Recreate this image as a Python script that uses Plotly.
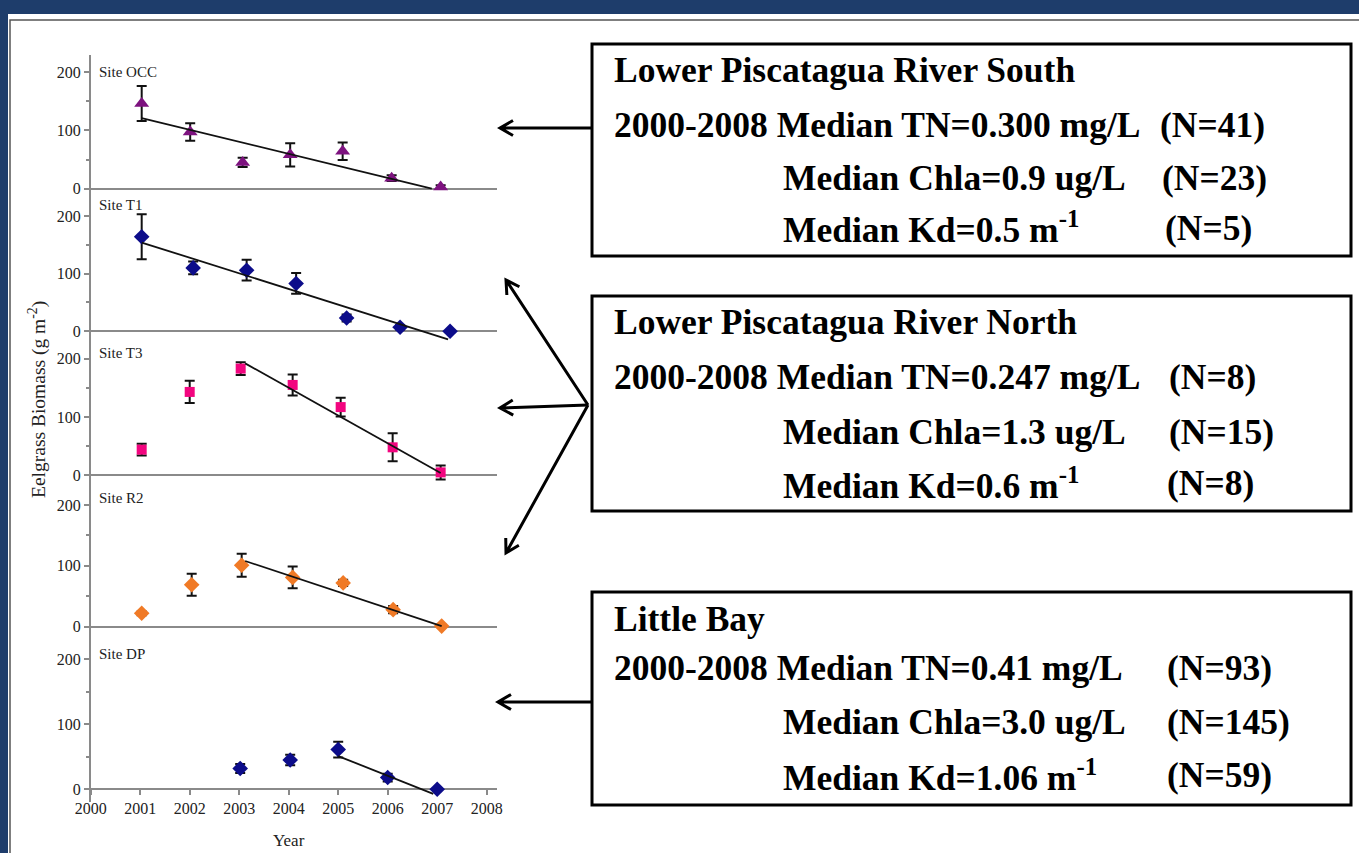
import math
import plotly.graph_objects as go

W, H = 1359, 853
def px(x): return x / W
def py(y): return 1 - y / H

# ---------------- data ----------------
year_ticks = [2000, 2001, 2002, 2003, 2004, 2005, 2006, 2007, 2008]
site_names = ["Site OCC", "Site T1", "Site T3", "Site R2", "Site DP"]

occ_x = [2001.03, 2002.01, 2003.07, 2004.03, 2005.09, 2006.08, 2007.07]
occ_y = [146, 97, 45, 58, 64, 18, 3]
occ_err = [30, 15, 8, 20, 15, 5, 3]
occ_trend_x = [2001.03, 2006.89]
occ_trend_y = [121, 0]

t1_x = [2001.03, 2002.07, 2003.15, 2004.15, 2005.17, 2006.25, 2007.26]
t1_y = [164, 110, 106, 83, 23, 7, 0]
t1_err = [39, 11, 18, 18, 6, 4, 2]
t1_trend_x = [2001.03, 2007.22]
t1_trend_y = [154, -14]

t3_x = [2001.03, 2002.0, 2003.03, 2004.08, 2005.05, 2006.1, 2007.07]
t3_y = [44, 143, 183, 155, 117, 48, 5]
t3_err = [10, 19, 11, 18, 16, 24, 12]
t3_trend_x = [2003.12, 2007.07]
t3_trend_y = [192, 4]

r2_x = [2001.03, 2002.04, 2003.05, 2004.08, 2005.1, 2006.11, 2007.09]
r2_y = [22, 69, 101, 81, 72, 28, 1]
r2_err = [3, 18, 19, 18, 5, 6, 2]
r2_trend_x = [2003.12, 2007.09]
r2_trend_y = [108, 1]

dp_x = [2003.02, 2004.03, 2005.0, 2006.0, 2007.0]
dp_y = [32, 45, 61, 18, 0]
dp_err = [7, 8, 12, 6, 0]
dp_trend_x = [2005.0, 2006.92]
dp_trend_y = [51, -7]

box_titles = ["Lower Piscatagua River South", "Lower Piscatagua River North", "Little Bay"]
tn_text = ["2000-2008 Median TN=0.300 mg/L", "2000-2008 Median TN=0.247 mg/L", "2000-2008 Median TN=0.41 mg/L"]
tn_n = ["(N=41)", "(N=8)", "(N=93)"]
chla_text = ["Median Chla=0.9 ug/L", "Median Chla=1.3 ug/L", "Median Chla=3.0 ug/L"]
chla_n = ["(N=23)", "(N=15)", "(N=145)"]
kd_text = ["Median Kd=0.5 m<sup>-1</sup>", "Median Kd=0.6 m<sup>-1</sup>", "Median Kd=1.06 m<sup>-1</sup>"]
kd_n = ["(N=5)", "(N=8)", "(N=59)"]

# ---------------- styling / layout geometry ----------------
serif = "Liberation Serif, Times New Roman, serif"
navy = "#0c0c8a"
colors = ["#7d127f", navy, "#f2057f", "#f07a26", navy]
symbols = ["triangle-up", "diamond", "square", "diamond", "diamond"]
sizes = [13, 12, 10, 12, 12]

series = [
    (occ_x, occ_y, occ_err, occ_trend_x, occ_trend_y),
    (t1_x, t1_y, t1_err, t1_trend_x, t1_trend_y),
    (t3_x, t3_y, t3_err, t3_trend_x, t3_trend_y),
    (r2_x, r2_y, r2_err, r2_trend_x, r2_trend_y),
    (dp_x, dp_y, dp_err, dp_trend_x, dp_trend_y),
]

# pixel position of value 0 and 200 for each panel
p0 = [188.7, 331.3, 475.3, 626.7, 789.3]
p200 = [72.0, 216.0, 358.7, 505.0, 659.0]
ptop = [55, 189, 332, 476, 628]
site_label_y = [72, 205, 353, 498, 654]
ylo = -20

x_left_px, x_2008_px = 90.7, 486.7
xmin, xmax = 2000, 2008.2
ppy = (x_2008_px - x_left_px) / 8
x_right_px = x_left_px + (xmax - xmin) * ppy

fig = go.Figure()

layout = dict(
    width=W, height=H,
    margin=dict(l=0, r=0, t=0, b=0, autoexpand=False),
    paper_bgcolor="#1e3d6b",
    plot_bgcolor="rgba(0,0,0,0)",
    showlegend=False,
    font=dict(family=serif, color="#222", size=15),
)

axis_gray = "#8a8a8a"
layout["xaxis"] = dict(
    domain=[px(x_left_px), px(x_right_px)], range=[xmin, xmax],
    anchor="free", position=py(p0[4]),
    tickvals=year_ticks, ticktext=[str(v) for v in year_ticks],
    ticks="outside", ticklen=5, tickcolor=axis_gray, tickwidth=1.5,
    showline=True, linecolor=axis_gray, linewidth=1.5,
    showgrid=False, zeroline=False,
    tickfont=dict(family=serif, size=16, color="#222"),
)

for i in range(5):
    s = (p0[i] - p200[i]) / 200
    yhi = (p0[i] - ptop[i]) / s
    bot_px = p0[i] - ylo * s
    top_px = ptop[i]
    name = "yaxis" if i == 0 else f"yaxis{i+1}"
    layout[name] = dict(
        domain=[py(bot_px), py(top_px)], range=[ylo, yhi],
        anchor="x",
        tickvals=[0, 100, 200],
        ticks="outside", ticklen=5, tickcolor=axis_gray, tickwidth=1.5,
        minor=dict(dtick=50, tick0=0, ticks="outside", ticklen=3,
                   tickcolor=axis_gray, tickwidth=1.5, showgrid=False),
        showline=True, linecolor=axis_gray, linewidth=1.5,
        showgrid=False,
        zeroline=(i < 4), zerolinecolor=axis_gray, zerolinewidth=1.5,
        tickfont=dict(family=serif, size=16, color="#222"),
    )

fig.update_layout(**layout)

for i, (xs, ys, es, tx, ty) in enumerate(series):
    yref = "y" if i == 0 else f"y{i+1}"
    fig.add_trace(go.Scatter(
        x=xs, y=ys, mode="markers", xaxis="x", yaxis=yref,
        marker=dict(symbol=symbols[i], size=sizes[i], color=colors[i]),
        error_y=dict(type="data", array=es, visible=True, color="#111",
                     thickness=2, width=5),
        cliponaxis=False,
    ))
    fig.add_trace(go.Scatter(
        x=tx, y=ty, mode="lines", xaxis="x", yaxis=yref,
        line=dict(color="#111", width=1.8),
    ))

shapes = []
# white page and inner frame
shapes.append(dict(type="rect", xref="paper", yref="paper", layer="below",
                   x0=px(8), x1=px(W + 5), y0=py(H + 5), y1=py(14),
                   fillcolor="white", line=dict(width=0)))
shapes.append(dict(type="rect", xref="paper", yref="paper", layer="below",
                   x0=px(10), x1=px(W + 20), y0=py(H + 20), y1=py(20),
                   fillcolor="rgba(0,0,0,0)", line=dict(color="#555", width=1.5)))

# text boxes
boxes_px = [(592, 44, 1351, 256), (592, 296, 1351, 511), (592, 592, 1351, 805)]
for (x0, y0, x1, y1) in boxes_px:
    shapes.append(dict(type="rect", xref="paper", yref="paper",
                       x0=px(x0), x1=px(x1), y0=py(y1), y1=py(y0),
                       line=dict(color="#000", width=3)))

# arrows
def arrow(tail, head, L=15, ang=30):
    tx, ty = tail
    hx, hy = head
    d = math.hypot(tx - hx, ty - hy)
    ux, uy = (tx - hx) / d, (ty - hy) / d
    a = math.radians(ang)
    arms = []
    for sgn in (1, -1):
        ca, sa = math.cos(sgn * a), math.sin(sgn * a)
        vx = ux * ca - uy * sa
        vy = ux * sa + uy * ca
        arms.append((hx + L * vx, hy + L * vy))
    path = (f"M {px(tx)} {py(ty)} L {px(hx)} {py(hy)} "
            f"M {px(arms[0][0])} {py(arms[0][1])} L {px(hx)} {py(hy)} "
            f"L {px(arms[1][0])} {py(arms[1][1])}")
    return dict(type="path", xref="paper", yref="paper", path=path,
                line=dict(color="#000", width=3))

shapes.append(arrow((592, 128), (500, 128)))
shapes.append(arrow((588, 405), (506, 280)))
shapes.append(arrow((588, 405), (500, 408)))
shapes.append(arrow((588, 405), (506, 553)))
shapes.append(arrow((592, 702), (498, 702)))
fig.update_layout(shapes=shapes)

ann = []
for i, name in enumerate(site_names):
    ann.append(dict(text=name, xref="paper", yref="paper", x=px(97), y=py(site_label_y[i]),
                    xanchor="left", yanchor="middle", showarrow=False,
                    font=dict(family=serif, size=15, color="#222")))
ann.append(dict(text="Year", xref="paper", yref="paper", x=px(289), y=py(840),
                xanchor="center", yanchor="middle", showarrow=False,
                font=dict(family=serif, size=17, color="#222")))
ann.append(dict(text="Eelgrass Biomass (g m<sup>-2</sup>)", xref="paper", yref="paper",
                x=px(37), y=py(400), textangle=-90,
                xanchor="center", yanchor="middle", showarrow=False,
                font=dict(family=serif, size=19.5, color="#222")))

box_line_y = [[70, 125, 178, 228], [322, 377, 432, 483], [619, 668, 722, 775]]
n_x = [[1158, 1160, 1163], [1167, 1167, 1165], [1165, 1165, 1165]]
bfs = 35.5
for b in range(3):
    ly = box_line_y[b]
    items = [
        (box_titles[b], 612, ly[0]),
        (tn_text[b], 612, ly[1]),
        (tn_n[b], n_x[b][0], ly[1]),
        (chla_text[b], 781, ly[2]),
        (chla_n[b], n_x[b][1], ly[2]),
        (kd_text[b], 781, ly[3]),
        (kd_n[b], n_x[b][2], ly[3]),
    ]
    for (t, xx, yy) in items:
        ann.append(dict(text=f"<b>{t}</b>", xref="paper", yref="paper",
                        x=px(xx), y=py(yy), xanchor="left", yanchor="middle",
                        showarrow=False,
                        font=dict(family=serif, size=bfs, color="#000")))
fig.update_layout(annotations=ann)

fig.write_html(
    "out.html",
    config={"displayModeBar": False},
    post_script="document.body.style.margin='0';document.body.style.background='#1e3d6b';",
)
